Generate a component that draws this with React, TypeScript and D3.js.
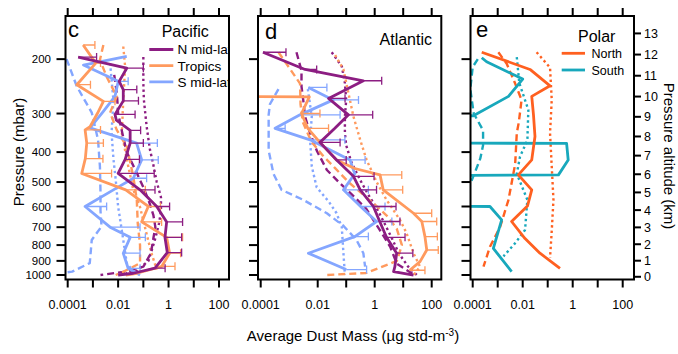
import * as d3 from 'd3';

// log(0) on the original plot: the line runs off the left edge horizontally
const ZERO = 1e-100;

// series rows: [dust mass (ug std-m-3), pressure (mbar), upper error (optional)]

// c — Pacific
const pacNorthObs = [
  [2.6e-4, 197, 1.4e-3], [0.022, 214, 0.1], [0.011, 236], [0.016, 251, 0.055], [0.016, 273, 0.064],
  [0.0075, 302, 0.047], [0.0085, 315], [0.03, 340, 0.078], [0.03, 374, 0.1], [0.019, 422, 0.07],
  [0.01, 469, 0.27], [0.074, 530, 0.29], [0.34, 600, 1.1], [0.84, 673, 3.6], [0.72, 755, 3.3],
  [0.89, 846, 3.3], [0.29, 950, 0.73], [0.04, 987], [0.01, 1000],
];
const pacNorthDash = [
  [0.007, 225], [0.009, 260], [0.01, 300], [0.015, 350], [0.022, 400], [0.05, 460], [0.1, 520],
  [0.17, 580], [0.25, 640], [0.3, 700], [0.25, 760], [0.2, 850], [0.1, 940], [0.02, 975], [2e-3, 1000],
];
const pacNorthDot = [
  [0.1, 197], [0.1, 240], [0.105, 271], [0.135, 330], [0.18, 390], [0.25, 440], [0.34, 500],
  [0.5, 560], [0.5, 620], [0.42, 680], [0.3, 760], [0.16, 900], [0.055, 968], [0.02, 990],
];
const pacTropObs = [
  [4.1e-4, 180, 1.2e-3], [1.3e-3, 206, 2e-3], [2.3e-4, 242, 8e-4], [2.6e-3, 274, 7.5e-3], [1.5e-3, 300],
  [7.7e-4, 331], [4.9e-4, 339, 2e-3], [5.7e-4, 374, 2.6e-3], [5e-4, 420, 2.5e-3], [3.6e-4, 469, 5.5e-3],
  [0.02, 530, 0.12], [0.157, 600, 0.48], [0.086, 673, 0.53], [0.84, 755, 3.6], [1.1, 850, 3],
  [0.54, 937, 1.8], [0.055, 987], [0.02, 1000],
];
const pacTropDash = [
  [2.6e-3, 180], [1.9e-3, 201], [3.5e-3, 228], [8.8e-3, 264], [4.8e-3, 298], [8.8e-3, 339], [0.022, 384],
  [0.04, 480], [0.055, 571], [0.06, 680], [0.074, 800], [0.074, 915], [0.016, 977], [0.008, 1000],
];
const pacTropDot = [
  [0.016, 182], [0.019, 212], [0.016, 271], [0.014, 347], [0.022, 422], [0.04, 530], [0.073, 600],
  [0.135, 737], [0.21, 850], [0.34, 960],
];
const pacSouthObs = [
  [0.022, 196], [4.2e-4, 209], [0.0101, 236, 0.025], [7.5e-3, 264], [2.6e-3, 295], [7.7e-4, 334],
  [0.054, 374, 0.36], [0.086, 424, 0.39], [0.04, 486, 0.135], [6.5e-3, 530], [4.9e-4, 600, 3.5e-3],
  [4.8e-3, 700, 0.074], [0.03, 755, 0.12], [0.016, 850, 0.074], [0.025, 951, 0.074], [0.074, 1000],
];
const pacSouthDash = [
  [9e-5, 200], [2.3e-4, 245], [9e-4, 298], [1.6e-3, 365], [1.9e-3, 446], [2e-3, 540], [2e-3, 620],
  [2.2e-3, 696], [9e-4, 770], [7.5e-4, 915], [1.5e-4, 975], [6e-5, 985],
];
const pacSouthDot = [
  [4.8e-3, 206], [6.5e-3, 271], [5.5e-3, 347], [6.5e-3, 420], [8e-3, 490], [0.01, 600], [0.016, 770],
  [0.022, 915], [0.04, 975],
];

// d — Atlantic
const atlNorthObs = [
  [1.2e-4, 190, 7.7e-4], [3.6e-3, 216, 9.2e-3], [0.4, 235, 1.76], [0.024, 268, 0.091], [0.12, 303, 0.85],
  [0.04, 335], [0.012, 372, 0.061], [0.046, 424, 0.1], [0.18, 479, 0.95], [0.31, 530, 1.16],
  [0.9, 600, 5.6], [1.5, 671, 7.7], [2.6, 755, 11.6], [5.9, 850, 21.8], [5.1, 940], [4.6, 975], [23, 1000],
];
const atlNorthDash = [
  [1.8e-3, 190], [2.7e-3, 218], [2.7e-3, 245], [3.1e-3, 271], [3.6e-3, 307], [5.4e-3, 347], [9.2e-3, 395],
  [0.021, 457], [0.061, 505], [0.18, 555], [0.5, 610], [1.5, 714], [3.5, 810], [6, 920], [25, 1000],
];
const atlNorthDot = [
  [0.031, 190], [0.07, 211], [0.09, 239], [0.1, 271], [0.09, 307], [0.09, 347], [0.1, 380], [0.15, 430],
  [0.3, 490], [0.6, 550], [1.2, 610], [2.2, 680], [4, 760], [7, 850], [15, 940], [30, 1000],
];
const atlTropObs = [
  [ZERO, 240], [5.1e-3, 265], [2.7e-3, 300, 0.012], [4.5e-3, 335, 0.024], [0.012, 372], [0.046, 424],
  [0.2, 452], [1.54, 474, 8.9], [1.99, 530, 9.6], [23, 631, 100], [45, 671, 150], [58, 751, 158],
  [67, 830, 170], [39, 905], [17, 965, 58],
];
const atlTropDash = [
  [4.2e-4, 190], [1.1e-3, 216], [2.4e-3, 240], [2.5e-3, 280], [3e-3, 320], [6e-3, 370], [0.015, 410],
  [0.04, 450], [0.12, 500], [0.4, 550], [1.2, 600], [3, 650], [6, 710], [9, 800], [6, 900], [0.5, 985],
  [0.02, 1000],
];
const atlTropDot = [
  [0.041, 194], [0.08, 216], [0.12, 258], [0.18, 307], [0.31, 365], [0.52, 424], [1.17, 500], [2.6, 571],
  [7.7, 663], [13, 730], [23, 850], [39, 940], [23, 1000],
];
const atlSouthObs = [
  [4.7e-3, 247, 0.021], [0.035, 271, 0.27], [2.4e-3, 303, 0.061], [3.2e-4, 335, 7.2e-4],
  [5.4e-3, 365, 0.09], [0.136, 424, 0.46], [0.2, 470], [0.08, 530, 0.6], [0.32, 600, 2.3],
  [1.16, 671, 4], [0.2, 751, 0.6], [4.7e-3, 850], [0.1, 960, 0.52],
];
const atlSouthDash = [
  [4.2e-4, 250], [2.1e-4, 280], [1.9e-4, 303], [1.9e-4, 395], [2.8e-4, 470], [5.4e-4, 530],
  [3.1e-3, 571], [0.021, 631], [0.08, 693], [0.23, 770], [0.4, 850], [0.46, 940],
];
const atlSouthDot = [
  [4.5e-3, 250], [6.2e-3, 307], [5.4e-3, 365], [6.2e-3, 445], [9.2e-3, 520], [0.025, 580],
  [0.046, 631], [0.07, 700], [0.08, 850], [0.09, 1000],
];

// e — Polar
const polNorthObs = [
  [2.3e-4, 190], [0.0196, 216], [0.124, 244], [0.023, 264], [0.027, 303], [0.031, 356], [0.023, 424],
  [6.7e-3, 474], [0.023, 530], [0.0155, 598], [3.6e-3, 671], [0.0124, 762], [0.049, 850], [0.31, 951],
];
const polNorthDash = [
  [1.06e-3, 190], [2.3e-3, 207], [5e-3, 240], [9e-3, 271], [7e-3, 320], [5.8e-3, 347], [5e-3, 437],
  [2.7e-3, 571], [1.24e-3, 700], [4.9e-4, 810], [2.7e-4, 940],
];
const polNorthDot = [
  [0.036, 190], [0.124, 213], [0.145, 271], [0.124, 347], [0.145, 445], [0.17, 571], [0.145, 720],
  [0.124, 880],
];
const polSouthObs = [
  [2.3e-4, 198], [3.6e-4, 204], [0.01, 232], [2.7e-3, 264], [1.06e-4, 305], [ZERO, 330], [ZERO, 350],
  [0.57, 375], [0.66, 424], [0.27, 474], [ZERO, 530], [ZERO, 571], [4.9e-4, 600], [1.44e-3, 663],
  [6.7e-4, 820], [3.6e-3, 975],
];
const polSouthDash = [
  [1.6e-4, 200], [1e-4, 212], [8e-5, 250], [1.1e-4, 300], [2.6e-4, 340], [2.6e-4, 380], [2e-4, 420],
  [1.3e-4, 460], [9e-5, 495],
];
const polSouthDot = [
  [5.8e-3, 197], [7.3e-3, 239], [0.0168, 292], [0.0154, 366], [7.8e-3, 414], [5.8e-3, 470],
  [0.0154, 571], [0.0124, 715], [4.9e-3, 790], [1.7e-3, 870],
];

const massTicks = [1e-4, 1e-3, 1e-2, 1e-1, 1, 10, 100];
const massLabels = ['0.0001', '', '0.01', '', '1', '', '100'];
const pressureTicks = [200, 300, 400, 500, 600, 700, 800, 900, 1000];
const altitudeTicks = [0, 1, 2, 3, 4, 5, 6, 7, 8, 9, 10, 11, 12, 13];

const PURPLE = '#8C1D82';
const TROP = '#FF9A5E';
const SMID = '#84A6FF';
const NORTH = '#FF6020';
const SOUTH = '#18A8BC';

const FONT = '"Liberation Sans", Arial, Helvetica, sans-serif';

// standard atmosphere, km -> mbar
const altToPressure = (km: number) => {
  const h = km * 1000;
  if (h <= 11000) return 1013.25 * Math.pow(1 - 0.0065 * h / 288.15, 5.25588);
  return 226.32 * Math.exp(-(h - 11000) / 6341.6);
};

const TOP = 16;
const BOTTOM = 279.5;
const y = d3.scaleLog().domain([145, 1034]).range([TOP, BOTTOM]);

type Series = { data: number[][]; color: string; kind: 'solid' | 'dash' | 'dot' };

const panels = [
  {
    id: 'c', left: 65.5, right: 229, dom: [-4.087, 2.397],
    series: [
      { data: pacNorthDot, color: PURPLE, kind: 'dot' },
      { data: pacTropDot, color: TROP, kind: 'dot' },
      { data: pacSouthDot, color: SMID, kind: 'dot' },
      { data: pacNorthDash, color: PURPLE, kind: 'dash' },
      { data: pacTropDash, color: TROP, kind: 'dash' },
      { data: pacSouthDash, color: SMID, kind: 'dash' },
      { data: pacSouthObs, color: SMID, kind: 'solid' },
      { data: pacTropObs, color: TROP, kind: 'solid' },
      { data: pacNorthObs, color: PURPLE, kind: 'solid' },
    ] as Series[],
  },
  {
    id: 'd', left: 258, right: 441.3, dom: [-4.095, 2.337],
    series: [
      { data: atlNorthDot, color: PURPLE, kind: 'dot' },
      { data: atlTropDot, color: TROP, kind: 'dot' },
      { data: atlSouthDot, color: SMID, kind: 'dot' },
      { data: atlNorthDash, color: PURPLE, kind: 'dash' },
      { data: atlTropDash, color: TROP, kind: 'dash' },
      { data: atlSouthDash, color: SMID, kind: 'dash' },
      { data: atlSouthObs, color: SMID, kind: 'solid' },
      { data: atlTropObs, color: TROP, kind: 'solid' },
      { data: atlNorthObs, color: PURPLE, kind: 'solid' },
    ] as Series[],
  },
  {
    id: 'e', left: 470.5, right: 634, dom: [-4.088, 2.452],
    series: [
      { data: polNorthDot, color: NORTH, kind: 'dot' },
      { data: polSouthDot, color: SOUTH, kind: 'dot' },
      { data: polNorthDash, color: NORTH, kind: 'dash' },
      { data: polSouthDash, color: SOUTH, kind: 'dash' },
      { data: polSouthObs, color: SOUTH, kind: 'solid' },
      { data: polNorthObs, color: NORTH, kind: 'solid' },
    ] as Series[],
  },
];

const dashFor = { solid: undefined, dash: '7,4', dot: '2.4,3' } as const;

function Panel({ p }: { p: typeof panels[number] }) {
  const x = d3.scaleLog().domain([10 ** p.dom[0], 10 ** p.dom[1]]).range([p.left, p.right]);
  const line = d3.line<number[]>().x(d => x(d[0])).y(d => y(d[1]));
  const clip = `clip-${p.id}`;
  return (
    <g>
      <defs>
        <clipPath id={clip}>
          <rect x={p.left} y={TOP} width={p.right - p.left} height={BOTTOM - TOP} />
        </clipPath>
      </defs>
      <g clipPath={`url(#${clip})`}>
        {p.series.map((s, i) => (
          <g key={i}>
            <path d={line(s.data) || ''} fill="none" stroke={s.color}
              strokeWidth={s.kind === 'solid' ? 2.8 : 2.4}
              strokeDasharray={dashFor[s.kind]} strokeLinejoin="round" />
            {s.kind === 'solid' && s.data.filter(d => d.length > 2).map((d, j) => {
              const yy = y(d[1]);
              const xh = x(d[2]);
              return (
                <g key={j} stroke={s.color} strokeWidth={1.3}>
                  <line x1={x(d[0])} x2={xh} y1={yy} y2={yy} />
                  <line x1={xh} x2={xh} y1={yy - 4} y2={yy + 4} />
                </g>
              );
            })}
          </g>
        ))}
        {p.id === 'c' && (
          <g fontFamily={FONT}>
            <text x={161.7} y={37} fontSize={16}>Pacific</text>
            {[['N mid-lat', PURPLE], ['Tropics', TROP], ['S mid-lat', SMID]].map(([t, c], i) => (
              <g key={t}>
                <line x1={149.3} x2={173.3} y1={49.5 + i * 16.2} y2={49.5 + i * 16.2} stroke={c} strokeWidth={2.8} />
                <text x={177.5} y={49.5 + i * 16.2 + 4.8} fontSize={13.5}>{t}</text>
              </g>
            ))}
          </g>
        )}
      </g>
      <rect x={p.left} y={TOP} width={p.right - p.left} height={BOTTOM - TOP} fill="none" stroke="#000" strokeWidth={2} />
      <g stroke="#000" strokeWidth={2}>
        {massTicks.map(t => (
          <g key={t}>
            <line x1={x(t)} x2={x(t)} y1={TOP - 8} y2={TOP} />
            <line x1={x(t)} x2={x(t)} y1={BOTTOM} y2={BOTTOM + 8} />
          </g>
        ))}
        {pressureTicks.map(t => (
          <line key={t} x1={p.left - 9} x2={p.left} y1={y(t)} y2={y(t)} />
        ))}
        {p.id === 'e' && altitudeTicks.map(t => (
          <line key={t} x1={p.right} x2={p.right + 7} y1={y(altToPressure(t))} y2={y(altToPressure(t))} />
        ))}
      </g>
      <g fontFamily={FONT} fontSize={12.5} textAnchor="middle">
        {massTicks.map((t, i) => (
          <text key={t} x={x(t)} y={309}>{massLabels[i]}</text>
        ))}
      </g>
    </g>
  );
}

export default function App() {
  const e = panels[2];
  return (
    <svg width={678} height={354} style={{ position: 'absolute', left: 0, top: 0, background: '#fff' }}>
      <rect width={678} height={354} fill="#fff" />
      {panels.map(p => <Panel key={p.id} p={p} />)}

      <g fontFamily={FONT}>
        {pressureTicks.map(t => (
          <text key={t} x={51} y={y(t)} dy="0.36em" fontSize={11.5} textAnchor="end">{t}</text>
        ))}
        {altitudeTicks.map(t => (
          <text key={t} x={e.right + 10} y={y(altToPressure(t))} dy="0.36em" fontSize={12.5}>{t}</text>
        ))}

        <text x={68} y={36.5} fontSize={22}>c</text>
        <text x={265} y={39.3} fontSize={22}>d</text>
        <text x={476} y={37} fontSize={22}>e</text>

        <text x={432} y={45} fontSize={16} textAnchor="end">Atlantic</text>

        <text x={578} y={41.7} fontSize={16}>Polar</text>
        {[['North', NORTH], ['South', SOUTH]].map(([t, c], i) => (
          <g key={t}>
            <line x1={561.7} x2={585} y1={53.3 + i * 16.7} y2={53.3 + i * 16.7} stroke={c} strokeWidth={2.8} />
            <text x={591.5} y={53.3 + i * 16.7 + 4.6} fontSize={12.5}>{t}</text>
          </g>
        ))}

        <text transform="translate(24,152) rotate(-90)" fontSize={15} textAnchor="middle">Pressure (mbar)</text>
        <text transform="translate(664,156) rotate(90)" fontSize={15} textAnchor="middle">Pressure altitude (km)</text>

        <text x={353} y={341} fontSize={15} textAnchor="middle">
          Average Dust Mass (µg std-m<tspan dy={-5} fontSize={10}>-3</tspan><tspan dy={5}>)</tspan>
        </text>
      </g>
    </svg>
  );
}
